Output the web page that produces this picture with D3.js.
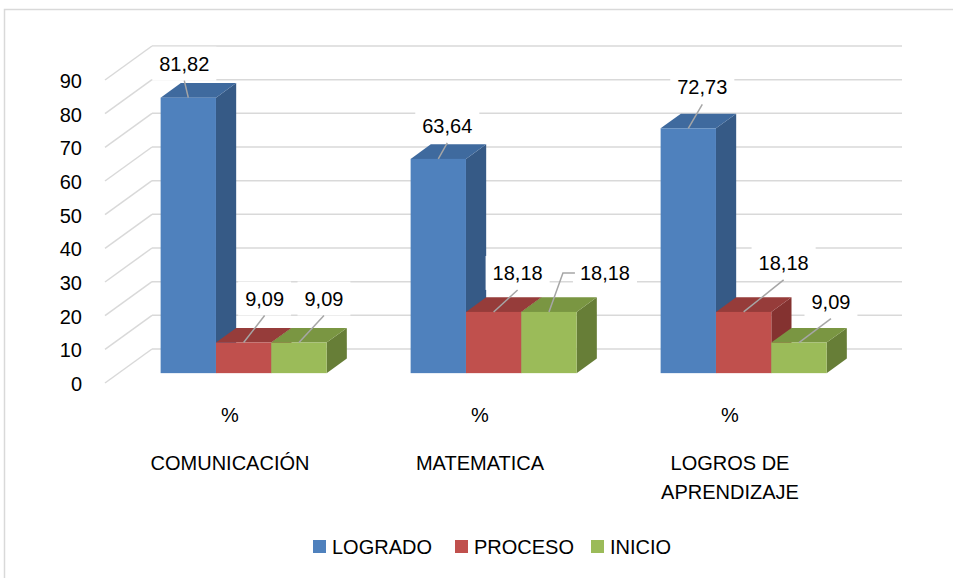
<!DOCTYPE html>
<html>
<head>
<meta charset="utf-8">
<script src="https://d3js.org/d3.v7.min.js"></script>
<style>
  body { margin: 0; background: #fff; }
  text { font-family: "Liberation Sans", Arial, sans-serif; fill: #000; }
</style>
</head>
<body>
<script>
// datos
const categories = ["COMUNICACIÓN", "MATEMATICA", "LOGROS DE APRENDIZAJE"];
const subLabel = "%";
const seriesNames = ["LOGRADO", "PROCESO", "INICIO"];
const logrado = [81.82, 63.64, 72.73];
const proceso = [9.09, 18.18, 18.18];
const inicio = [9.09, 18.18, 9.09];
const yTicks = [0, 10, 20, 30, 40, 50, 60, 70, 80, 90];

// estilos por serie: frente, tapa, lado
const colors = {
  LOGRADO: ["#4F81BD", "#3F6A9E", "#365A86"],
  PROCESO: ["#C0504D", "#963C3A", "#843230"],
  INICIO:  ["#9BBB59", "#7A9642", "#677E37"]
};

// desplazamiento manual de las etiquetas (como en el original)
const labelNudge = {
  LOGRADO: [[-4, -34], [9, -33], [14, -41]],
  PROCESO: [[21, -44], [24, -39], [40, -49]],
  INICIO:  [[25, -44], [56, -39, true], [32, -41]]
};

const W = 953, H = 578;
const FS = 20;
const depth = { dx: 47, dy: -34 };
const barFront = 0.29, barBack = 0.72;

const svg = d3.select("body").append("svg")
  .attr("width", W).attr("height", H);

// borde del area del grafico
svg.append("rect")
  .attr("x", 4.5).attr("y", 9.5)
  .attr("width", 1000).attr("height", 700)
  .attr("fill", "none").attr("stroke", "#D9D9D9").attr("stroke-width", 1.5);

const x0 = d3.scaleBand().domain(categories).range([105, 855]);
const x1 = d3.scaleBand().domain(seriesNames)
  .range([x0.bandwidth() * 0.168, x0.bandwidth() * 0.832]);
const y = d3.scaleLinear().domain([0, 90]).range([383, 80]);

// lineas de division (pared izquierda y fondo)
const grid = svg.append("g").attr("stroke", "#D9D9D9").attr("stroke-width", 1.5);
grid.selectAll("line.back").data(yTicks).join("line")
  .attr("x1", 105 + depth.dx).attr("x2", 855 + depth.dx)
  .attr("y1", d => y(d) + depth.dy).attr("y2", d => y(d) + depth.dy);
grid.selectAll("line.side").data(yTicks).join("line")
  .attr("x1", 105).attr("x2", 105 + depth.dx)
  .attr("y1", d => y(d)).attr("y2", d => y(d) + depth.dy);

// etiquetas eje y
svg.append("g").selectAll("text").data(yTicks).join("text")
  .attr("x", 82).attr("y", d => y(d) + 1)
  .attr("text-anchor", "end").attr("dominant-baseline", "central")
  .attr("font-size", FS)
  .text(d => d);

// barras 3D
const values = { LOGRADO: logrado, PROCESO: proceso, INICIO: inicio };
const bars = [];
categories.forEach((c, i) => {
  seriesNames.forEach(s => {
    bars.push({ cat: c, i: i, s: s, v: values[s][i] });
  });
});

const fx = barFront * depth.dx, fy = barFront * depth.dy;
const bx = barBack * depth.dx, by = barBack * depth.dy;
const bw = x1.bandwidth();

const gBars = svg.append("g");
bars.forEach(b => {
  const xl = x0(b.cat) + x1(b.s) + fx;
  const xr = xl + bw;
  const yb = y(0) + fy;
  const yt = y(b.v) + fy;
  const ddx = bx - fx, ddy = by - fy;
  const col = colors[b.s];
  const g = gBars.append("g");
  // lado
  g.append("path")
    .attr("d", `M${xr},${yt} L${xr + ddx},${yt + ddy} L${xr + ddx},${yb + ddy} L${xr},${yb} Z`)
    .attr("fill", col[2]);
  // tapa
  g.append("path")
    .attr("d", `M${xl},${yt} L${xl + ddx},${yt + ddy} L${xr + ddx},${yt + ddy} L${xr},${yt} Z`)
    .attr("fill", col[1]);
  // frente
  g.append("rect")
    .attr("x", xl).attr("y", yt)
    .attr("width", bw).attr("height", yb - yt)
    .attr("fill", col[0]);
  b.px = (xl + xr) / 2;
  b.py = yt;
});

// etiquetas de datos
const fmt = v => d3.format(".2f")(v).replace(".", ",");
const gLab = svg.append("g");
bars.forEach(b => {
  const n = labelNudge[b.s][b.i];
  const tx = b.px + n[0], ty = b.py + n[1];
  const g = gLab.append("g");
  const box = g.append("rect").attr("fill", "#fff");
  const t = g.append("text")
    .attr("x", tx).attr("y", ty)
    .attr("text-anchor", "middle").attr("dominant-baseline", "central")
    .attr("font-size", FS)
    .text(fmt(b.v));
  const tw = t.node().getComputedTextLength();
  box.attr("x", tx - tw / 2 - 7).attr("y", ty - 17)
    .attr("width", tw + 14).attr("height", 34);
  let pts;
  if (n[2]) {
    const sx = tx - tw / 2 - 5;
    pts = [[sx, ty], [sx - 12, ty], [b.px, b.py]];
  } else {
    pts = [[tx, ty + 17], [b.px, b.py]];
  }
  g.append("path")
    .attr("d", d3.line()(pts))
    .attr("fill", "none").attr("stroke", "#A6A6A6").attr("stroke-width", 1.5);
});

// eje de categorias (dos niveles)
const gCat = svg.append("g");
categories.forEach(c => {
  const cx = x0(c) + x0.bandwidth() / 2;
  gCat.append("text")
    .attr("x", cx).attr("y", 415)
    .attr("text-anchor", "middle").attr("dominant-baseline", "central")
    .attr("font-size", FS).text(subLabel);
  const t = gCat.append("text")
    .attr("x", cx).attr("y", 463)
    .attr("text-anchor", "middle").attr("dominant-baseline", "central")
    .attr("font-size", FS);
  // partir en lineas si es muy largo
  const words = c.split(" ");
  let line = [], lines = [];
  t.text(c);
  if (t.node().getComputedTextLength() > 190) {
    t.text(null);
    words.forEach(w => {
      const test = line.concat(w).join(" ");
      t.text(test);
      if (t.node().getComputedTextLength() > 140 && line.length) {
        lines.push(line.join(" "));
        line = [w];
      } else {
        line.push(w);
      }
    });
    lines.push(line.join(" "));
    t.text(null);
    lines.forEach((l, k) => {
      t.append("tspan").attr("x", cx).attr("dy", k === 0 ? 0 : 29).text(l);
    });
  }
});

// leyenda
const legendX = [313, 455, 591];
const gLeg = svg.append("g");
seriesNames.forEach((s, k) => {
  gLeg.append("rect")
    .attr("x", legendX[k]).attr("y", 540)
    .attr("width", 13).attr("height", 13)
    .attr("fill", colors[s][0]);
  gLeg.append("text")
    .attr("x", legendX[k] + 19).attr("y", 547)
    .attr("dominant-baseline", "central")
    .attr("font-size", FS).text(s);
});
</script>
</body>
</html>
